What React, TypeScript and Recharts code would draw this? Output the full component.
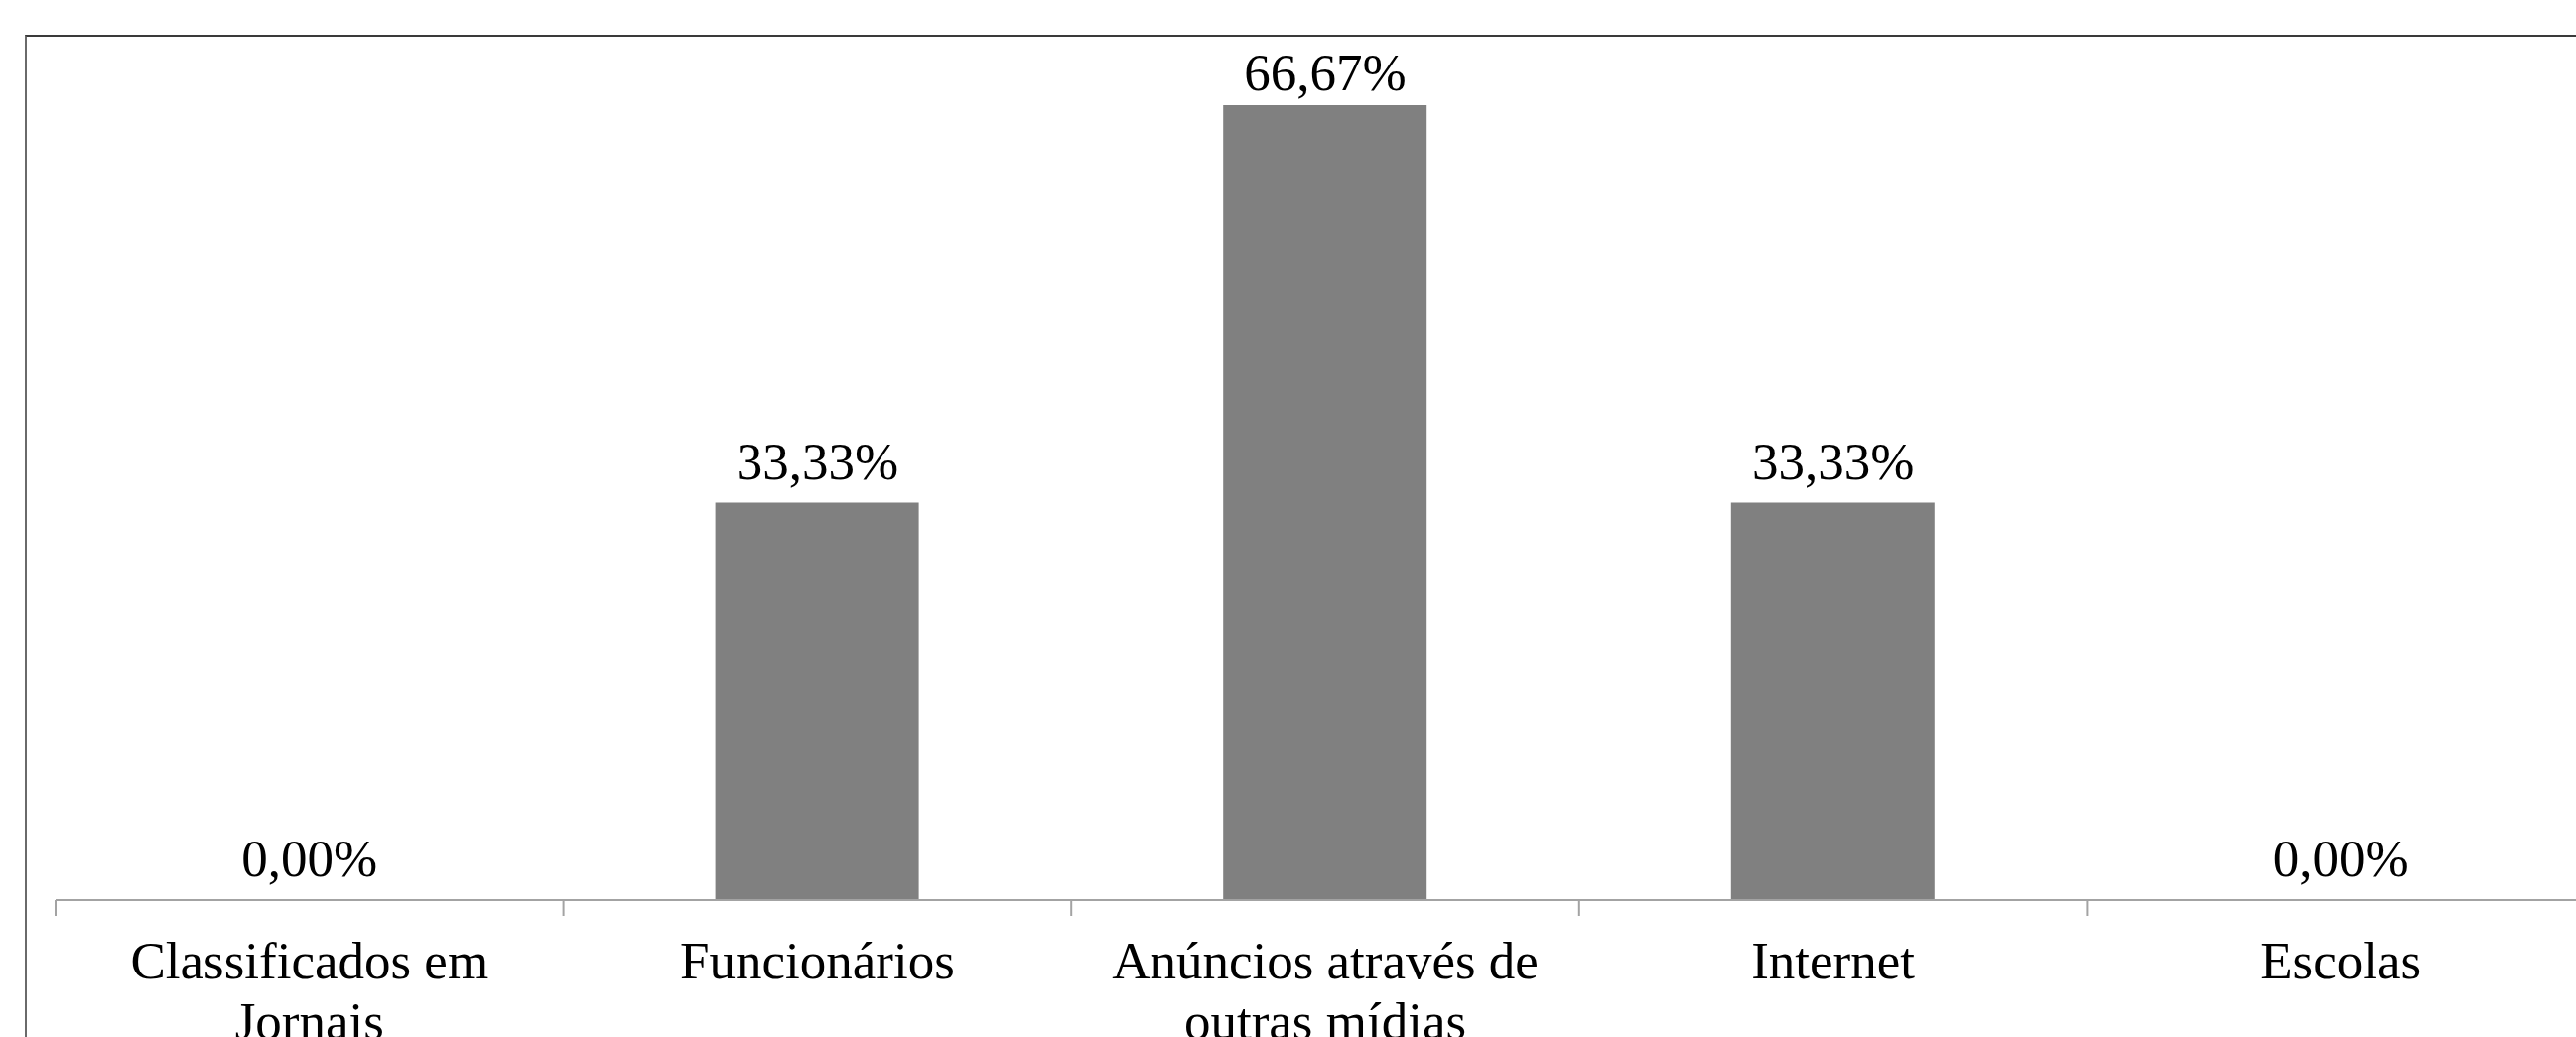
import { ComposedChart, Bar, Line, XAxis, YAxis, LabelList } from 'recharts';

const categories = [
  'Classificados em Jornais',
  'Funcionários',
  'Anúncios através de outras mídias',
  'Internet',
  'Escolas',
];
// tick labels as they wrap in the original chart
const tickLines = [
  ['Classificados em', 'Jornais'],
  ['Funcionários'],
  ['Anúncios através de', 'outras mídias'],
  ['Internet'],
  ['Escolas'],
];
const percentages = [0, 33.33, 66.67, 33.33, 0];

const FONT = '"Liberation Serif", "Times New Roman", serif';
const FONT_SIZE = 53;
const AXIS_GRAY = '#a3a3a3';

const CHART_W = 2620;
const CHART_H = 1045;
const MARGIN = { top: 66, right: 6, left: 56, bottom: 0 };
const BAND = (CHART_W - MARGIN.left - MARGIN.right) / categories.length;

const chartData = categories.map((name, i) => ({ name, value: percentages[i] }));

/** 33.33 -> "33,33%" */
function formatPct(v: number): string {
  return `${Number(v).toFixed(2).replace('.', ',')}%`;
}

const CategoryTick = ({ x, y, payload, index }: any) => {
  const idx = categories.indexOf(payload.value);
  const lines = tickLines[idx] ?? [payload.value];
  const last = index === categories.length - 1;
  return (
    <g>
      {/* tick marks sit on the category boundaries */}
      <line x1={x - BAND / 2} x2={x - BAND / 2} y1={y} y2={y + 16} stroke={AXIS_GRAY} strokeWidth={2} />
      {last && (
        <line x1={x + BAND / 2} x2={x + BAND / 2} y1={y} y2={y + 16} stroke={AXIS_GRAY} strokeWidth={2} />
      )}
      <text x={x} y={y + 79} textAnchor="middle" fill="#000" fontFamily={FONT} fontSize={FONT_SIZE}>
        {lines.map((line, i) => (
          <tspan key={line} x={x} dy={i === 0 ? 0 : 61}>
            {line}
          </tspan>
        ))}
      </text>
    </g>
  );
};

// value label above the bar top, kept inside the plot area like Excel does
const ValueLabel = ({ x, y, value }: any) => {
  const ty = Math.max(y - 24, MARGIN.top + 25);
  return (
    <text x={x} y={ty} textAnchor="middle" fill="#000" fontFamily={FONT} fontSize={FONT_SIZE}>
      {formatPct(value)}
    </text>
  );
};

export default function App() {
  return (
    <div
      style={{
        position: 'absolute',
        left: 0,
        top: 0,
        width: 2595,
        height: 1045,
        overflow: 'hidden',
        background: '#fff',
      }}
    >
      {/* chart area frame, runs past the right and bottom edges */}
      <div
        style={{
          position: 'absolute',
          left: 25,
          top: 35,
          width: 2700,
          height: 1100,
          borderTop: '2px solid #3a3a3a',
          borderLeft: '2px solid #6a6a6a',
        }}
      />
      <div style={{ position: 'absolute', left: 0, top: 0 }}>
        <ComposedChart width={CHART_W} height={CHART_H} data={chartData} margin={MARGIN}>
          <XAxis
            dataKey="name"
            height={138}
            axisLine={{ stroke: AXIS_GRAY, strokeWidth: 2 }}
            tickLine={false}
            tickSize={0}
            tickMargin={0}
            interval={0}
            tick={<CategoryTick />}
          />
          <YAxis hide domain={[0, 70]} allowDataOverflow />
          <Bar dataKey="value" fill="#808080" barSize={205} isAnimationActive={false} />
          {/* invisible series that only carries the value labels (also for 0%) */}
          <Line
            dataKey="value"
            stroke="none"
            dot={false}
            activeDot={false}
            isAnimationActive={false}
          >
            <LabelList dataKey="value" content={<ValueLabel />} />
          </Line>
        </ComposedChart>
      </div>
    </div>
  );
}
